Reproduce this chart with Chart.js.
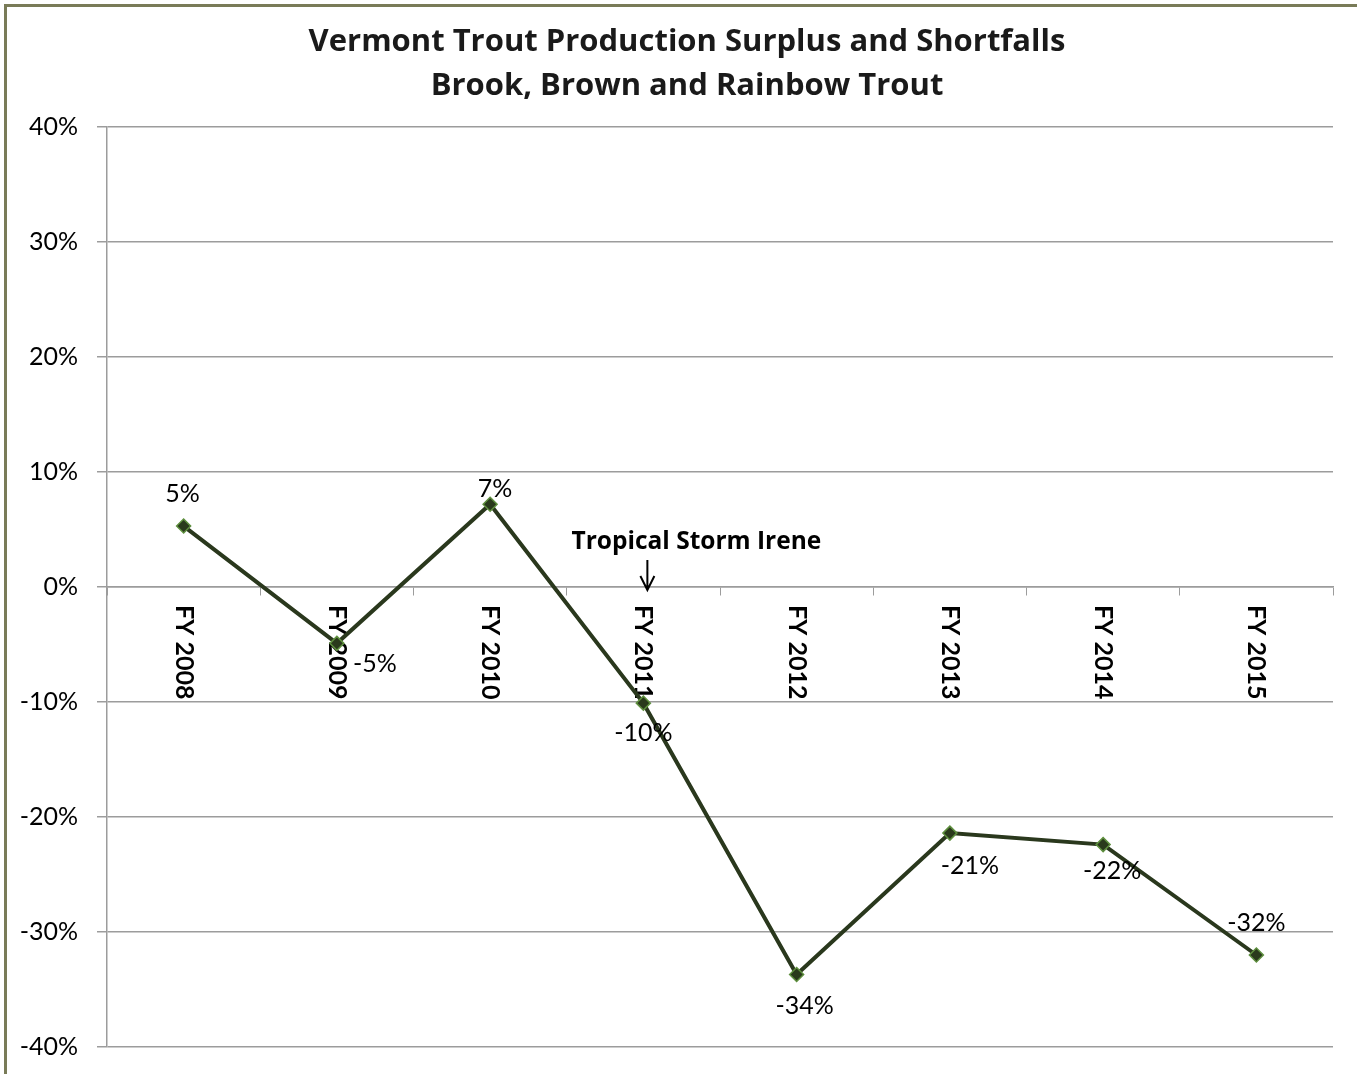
<!DOCTYPE html>
<html>
<head>
<meta charset="utf-8">
<script src="https://cdn.jsdelivr.net/npm/chart.js@4.4.1/dist/chart.umd.min.js"></script>
<style>
  html, body { margin: 0; padding: 0; background: #ffffff; }
  #wrap { width: 1357px; height: 1074px; }
</style>
</head>
<body>
<div id="wrap"><canvas id="c" width="1357" height="1074"></canvas></div>
<script>
// ---- data ----
const categories = ['FY 2008', 'FY 2009', 'FY 2010', 'FY 2011', 'FY 2012', 'FY 2013', 'FY 2014', 'FY 2015'];
const surplusPct = [5.3, -4.9, 7.2, -10.1, -33.7, -21.4, -22.4, -32.0];
const yTickMin = -40;
const yTickMax = 40;
const yTickStep = 10;
const titleLines = ['Vermont Trout Production Surplus and Shortfalls', 'Brook, Brown and Rainbow Trout'];
const annotationText = 'Tropical Storm Irene';
const annotationCategoryIndex = 3;

// ---- styling (label offsets in px relative to the point) ----
const labelOffsets = [[-1, -32], [38, 21], [5, -15], [0, 30], [8, 31], [20, 33], [9, 26], [0, -32]];
const FONT = 'Lato, "Open Sans", sans-serif';
const BOLD_FONT = '"Open Sans", Lato, sans-serif';
const LINE_COLOR = '#2a381d';
const GRID_COLOR = '#9c9c9c';

const framePlugin = {
  id: 'frame',
  beforeDraw(chart) {
    const ctx = chart.ctx;
    ctx.save();
    ctx.fillStyle = '#ffffff';
    ctx.fillRect(0, 0, chart.width, chart.height);
    ctx.strokeStyle = '#797b58';
    ctx.lineWidth = 3;
    ctx.beginPath();
    ctx.moveTo(5.5, chart.height + 10);
    ctx.lineTo(5.5, 5.5);
    ctx.lineTo(chart.width + 10, 5.5);
    ctx.stroke();
    // title
    ctx.fillStyle = '#1a1a1a';
    ctx.font = 'bold 31px ' + BOLD_FONT;
    ctx.textAlign = 'center';
    ctx.textBaseline = 'alphabetic';
    ctx.fillText(titleLines[0], 687, 51);
    ctx.fillText(titleLines[1], 687, 95);
    ctx.restore();
  }
};

const xLabelPlugin = {
  id: 'xLabels',
  beforeDatasetsDraw(chart) {
    const ctx = chart.ctx;
    const xs = chart.scales.x, ys = chart.scales.y;
    const y0 = ys.getPixelForValue(0);
    ctx.save();
    ctx.fillStyle = '#000000';
    ctx.font = 'bold 25px ' + FONT;
    ctx.textAlign = 'left';
    ctx.textBaseline = 'middle';
    categories.forEach((c, i) => {
      const x = xs.getPixelForValue(i);
      ctx.save();
      ctx.translate(x, y0 + 18);
      ctx.rotate(Math.PI / 2);
      ctx.fillText(c, 0, 0);
      ctx.restore();
    });
    // annotation
    const ax = xs.getPixelForValue(annotationCategoryIndex);
    ctx.font = 'bold 24.5px ' + BOLD_FONT;
    ctx.textAlign = 'center';
    ctx.fillText(annotationText, ax + 53, ys.getPixelForValue(3.9));
    ctx.strokeStyle = '#000000';
    ctx.lineWidth = 2;
    const axx = ax + 4;
    ctx.beginPath();
    ctx.moveTo(axx, y0 - 27);
    ctx.lineTo(axx, y0 + 3);
    ctx.moveTo(axx - 7, y0 - 11);
    ctx.lineTo(axx, y0 + 3);
    ctx.lineTo(axx + 7, y0 - 11);
    ctx.stroke();
    ctx.restore();
  },
  afterDatasetsDraw(chart) {
    const ctx = chart.ctx;
    const meta = chart.getDatasetMeta(0);
    ctx.save();
    ctx.fillStyle = '#000000';
    ctx.font = '25px ' + FONT;
    ctx.textAlign = 'center';
    ctx.textBaseline = 'middle';
    meta.data.forEach((pt, i) => {
      const v = Math.round(surplusPct[i]);
      const [dx, dy] = labelOffsets[i];
      ctx.fillText(v + '%', pt.x + dx, pt.y + dy);
    });
    ctx.restore();
  }
};

new Chart(document.getElementById('c'), {
  type: 'line',
  data: {
    labels: categories,
    datasets: [{
      data: surplusPct,
      borderColor: LINE_COLOR,
      borderWidth: 4,
      backgroundColor: LINE_COLOR,
      pointStyle: 'rectRot',
      pointRadius: 7,
      pointBackgroundColor: '#2a3a1c',
      pointBorderColor: '#5e8f3e',
      pointBorderWidth: 1.5,
      tension: 0,
      fill: false
    }]
  },
  options: {
    responsive: false,
    animation: false,
    layout: { padding: { left: 0, top: 127, right: 24, bottom: 27 } },
    plugins: {
      legend: { display: false },
      title: { display: false },
      tooltip: { enabled: false }
    },
    scales: {
      x: {
        type: 'category',
        position: { y: 0 },
        offset: true,
        grid: {
          offset: true,
          drawOnChartArea: false,
          drawTicks: true,
          tickLength: 8,
          color: GRID_COLOR,
          lineWidth: 1
        },
        border: { display: true, color: GRID_COLOR, width: 1.5 },
        ticks: { callback: () => '', padding: 0 }
      },
      y: {
        min: yTickMin,
        max: yTickMax,
        afterFit(scale) {
          scale.width = 107;
          scale.paddingTop = 0;
          scale.paddingBottom = 0;
        },
        grid: {
          color: GRID_COLOR,
          lineWidth: 1.5,
          drawTicks: true,
          tickLength: 10
        },
        border: { display: true, color: GRID_COLOR, width: 1.5 },
        ticks: {
          stepSize: yTickStep,
          padding: 19,
          color: '#000000',
          font: { family: FONT, size: 25 },
          callback: v => v + '%'
        }
      }
    }
  },
  plugins: [framePlugin, xLabelPlugin]
});
</script>
</body>
</html>
